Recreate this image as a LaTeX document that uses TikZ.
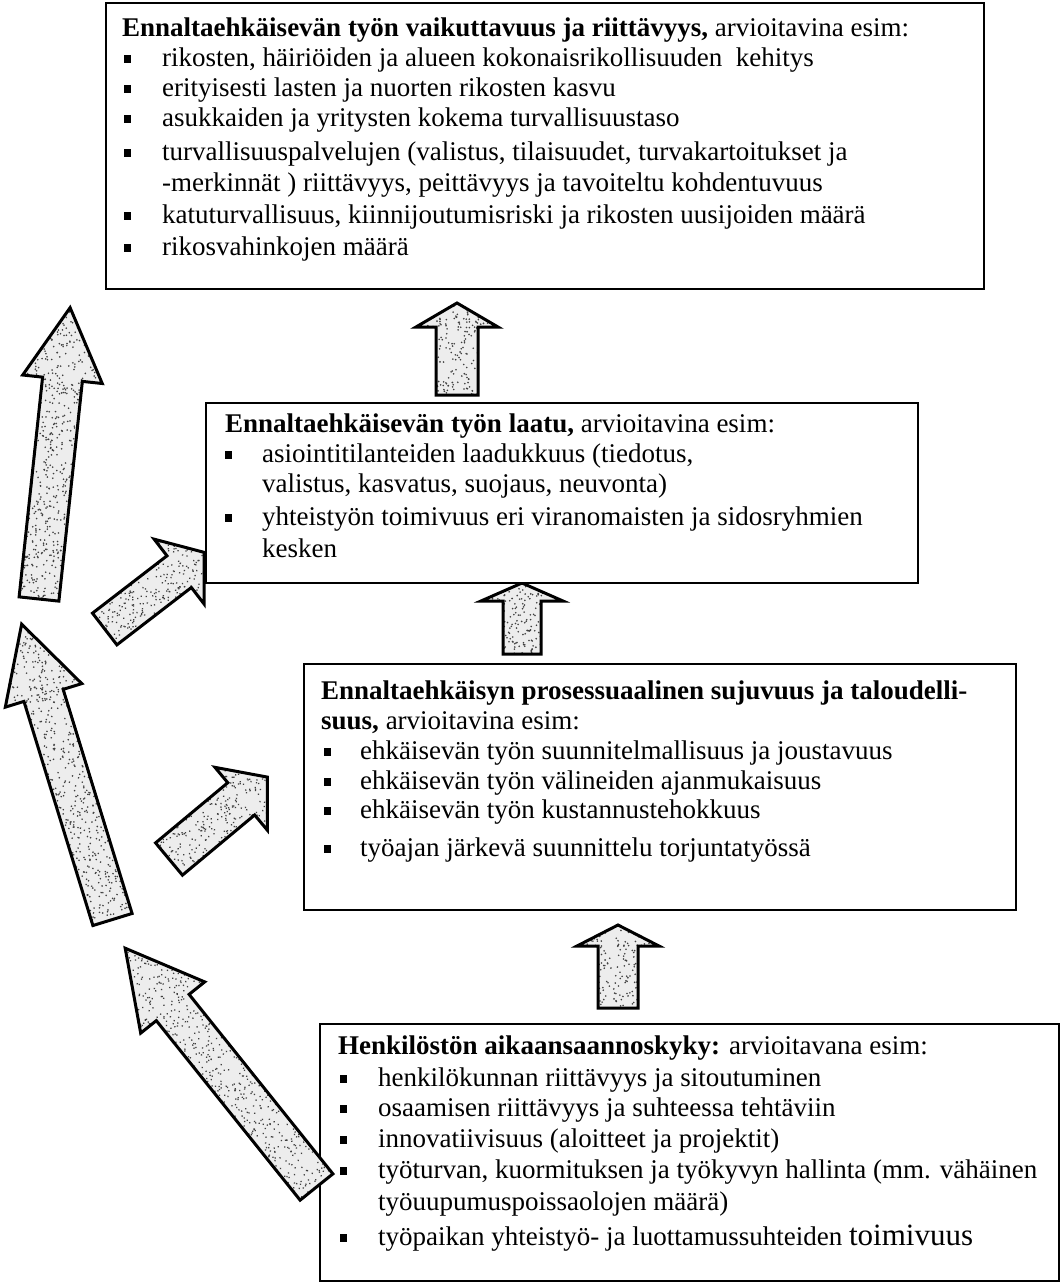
\documentclass[tikz,border=0pt]{standalone}
\usepackage{fontspec}
\setmainfont{Liberation Serif}
\newcommand{\sqb}{\rule[3pt]{7pt}{8pt}}
\newcommand{\bitem}[1]{\makebox[#1][l]{\sqb}}
\newcommand{\txtline}[4]{\node[txt] (#1) at (#2,#3) {#4};}
% tail x, tail y, canvas angle, length, shaft half width, head half width, head length
\newcommand{\blockarrow}[7]{%
  \begin{scope}[shift={(#1,#2)}, rotate=#3]
    \fill[arrowbg] (0,-#5) -- ({#4-#7},-#5) -- ({#4-#7},-#6) -- (#4,0) -- ({#4-#7},#6) -- ({#4-#7},#5) -- (0,#5) -- cycle;
    \begin{scope}
      \clip (0,-#5) -- ({#4-#7},-#5) -- ({#4-#7},-#6) -- (#4,0) -- ({#4-#7},#6) -- ({#4-#7},#5) -- (0,#5) -- cycle;
      \pgfmathtruncatemacro{\nd}{(#6/13)*#4}
      \foreach \k in {1,...,\nd} {\fill[arrowdot] ({rnd*#4},{(2*rnd-1)*#6}) circle (0.9pt);}
    \end{scope}
    \draw[arrowline] (0,-#5) -- ({#4-#7},-#5) -- ({#4-#7},-#6) -- (#4,0) -- ({#4-#7},#6) -- ({#4-#7},#5) -- (0,#5) -- cycle;
  \end{scope}}
\tikzset{
  box/.style={draw=black, line width=2pt, fill=white, rectangle, inner sep=0pt, anchor=north west},
  txt/.style={anchor=base west, inner sep=0pt, font=\fontsize{27pt}{31pt}\selectfont},
  arrowline/.style={draw=black, line width=3pt, line join=miter, miter limit=10},
  arrowbg/.style={fill=black!7},
  arrowdot/.style={fill=black!75},
}
\begin{document}
\begin{tikzpicture}[x=1pt, y=-1pt]
\pgfmathsetseed{7}
\useasboundingbox (0,0) rectangle (1064,1283);
\fill[white] (0,0) rectangle (1064,1283);

% arrows drawn below the boxes
\blockarrow{39}{599}{83.9}{293}{20}{40}{72}
\blockarrow{104.7}{629}{37.6}{125.6}{20}{41}{31.6}
\blockarrow{112.5}{919.5}{107.1}{309}{20.5}{40}{74.5}
\blockarrow{169}{859}{39.8}{128}{21}{41}{34}
\blockarrow{457}{395}{90}{92}{21}{41}{24}
\blockarrow{522}{654}{90}{71}{19}{41}{18}
\blockarrow{618}{1008}{90}{83}{20}{41}{21}

% box 1
\node[box, minimum width=878pt, minimum height=286pt] (box1) at (105,2) {};
\txtline{b1t}{122}{36}{\textbf{Ennaltaehkäisevän työn vaikuttavuus ja riittävyys,} arvioitavina esim:}
\txtline{b1a}{124}{66}{\bitem{38pt}rikosten, häiriöiden ja alueen kokonaisrikollisuuden \ kehitys}
\txtline{b1b}{124}{96}{\bitem{38pt}erityisesti lasten ja nuorten rikosten kasvu}
\txtline{b1c}{124}{126}{\bitem{38pt}asukkaiden ja yritysten kokema turvallisuustaso}
\txtline{b1d}{124}{160}{\bitem{38pt}turvallisuuspalvelujen (valistus, tilaisuudet, turvakartoitukset ja}
\txtline{b1e}{162}{191}{-merkinnät ) riittävyys, peittävyys ja tavoiteltu kohdentuvuus}
\txtline{b1f}{124}{223}{\bitem{38pt}katuturvallisuus, kiinnijoutumisriski ja rikosten uusijoiden määrä}
\txtline{b1g}{124}{255}{\bitem{38pt}rikosvahinkojen määrä}

% box 2
\node[box, minimum width=712pt, minimum height=180pt] (box2) at (205,402) {};
\txtline{b2t}{225}{432}{\textbf{Ennaltaehkäisevän työn laatu,} arvioitavina esim:}
\txtline{b2a}{225}{462}{\bitem{37pt}asiointitilanteiden laadukkuus (tiedotus,}
\txtline{b2b}{262}{492}{valistus, kasvatus, suojaus, neuvonta)}
\txtline{b2c}{225}{525}{\bitem{37pt}yhteistyön toimivuus eri viranomaisten ja sidosryhmien}
\txtline{b2d}{262}{557}{kesken}

% box 3
\node[box, minimum width=712pt, minimum height=246pt] (box3) at (303,663) {};
\txtline{b3t}{321}{699}{\textbf{Ennaltaehkäisyn prosessuaalinen sujuvuus ja taloudelli-}}
\txtline{b3u}{321}{729}{\textbf{suus,} arvioitavina esim:}
\txtline{b3a}{324}{759}{\bitem{36pt}ehkäisevän työn suunnitelmallisuus ja joustavuus}
\txtline{b3b}{324}{789}{\bitem{36pt}ehkäisevän työn välineiden ajanmukaisuus}
\txtline{b3c}{324}{818}{\bitem{36pt}ehkäisevän työn kustannustehokkuus}
\txtline{b3d}{324}{856}{\bitem{36pt}työajan järkevä suunnittelu torjuntatyössä}

% box 4
\node[box, minimum width=739pt, minimum height=257pt] (box4) at (319,1023) {};
\txtline{b4t}{338}{1054}{\textbf{Henkilöstön aikaansaannoskyky:} arvioitavana esim:}
\txtline{b4a}{340}{1086}{\bitem{38pt}henkilökunnan riittävyys ja sitoutuminen}
\txtline{b4b}{340}{1116}{\bitem{38pt}osaamisen riittävyys ja suhteessa tehtäviin}
\txtline{b4c}{340}{1147}{\bitem{38pt}innovatiivisuus (aloitteet ja projektit)}
\txtline{b4d}{340}{1178}{\bitem{38pt}työturvan, kuormituksen ja työkyvyn hallinta (mm. vähäinen}
\txtline{b4e}{378}{1210}{työuupumuspoissaolojen määrä)}
\txtline{b4f}{340}{1245}{\bitem{38pt}työpaikan yhteistyö- ja luottamussuhteiden {\fontsize{31pt}{31pt}\selectfont toimivuus}}

% arrow drawn over box 4
\blockarrow{316.5}{1187}{128.7}{306}{21}{41}{76}
\end{tikzpicture}
\end{document}
